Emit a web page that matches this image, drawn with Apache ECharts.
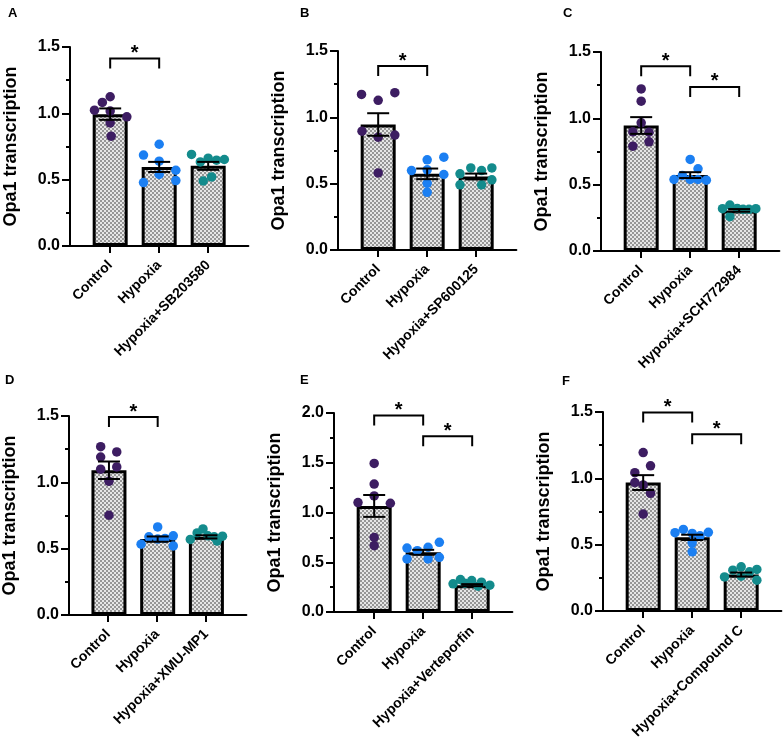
<!DOCTYPE html>
<html><head><meta charset="utf-8">
<script src="https://cdn.jsdelivr.net/npm/echarts@6/dist/echarts.min.js"></script>
<style>html,body{margin:0;padding:0;background:#fff}#c{width:784px;height:749px}</style>
</head><body><div id="c"></div>
<script>
// ---------- DATA ----------
const groupNames = ['Control', 'Hypoxia'];
const treatments = ['Hypoxia+SB203580', 'Hypoxia+SP600125', 'Hypoxia+SCH772984',
                    'Hypoxia+XMU-MP1', 'Hypoxia+Verteporfin', 'Hypoxia+Compound C'];
const panelLetters = ['A', 'B', 'C', 'D', 'E', 'F'];
const yMaxes = [1.5, 1.5, 1.5, 1.5, 2.0, 1.5];
const yTickStep = 0.5;
const yTitle = 'Opa1 transcription';

// Panel A
const valuesA = [[1.125,1.082,1.024,1.017,0.974,0.928,0.828],
                 [0.767,0.685,0.639,0.571,0.539,0.478,0.493],
                 [0.690,0.634,0.662,0.647,0.652,0.490,0.521]];
const jitterA = [[0,-0.16,-0.32,0,0.34,0,0.02],
                 [0,-0.32,0,0.34,0,-0.32,0.34],
                 [-0.34,-0.16,0,0.17,0.33,-0.10,0.07]];
const meanA = [0.994, 0.596, 0.604];
const semA  = [0.043, 0.038, 0.030];
const sigA  = [[0, 1, 1.414]];

// Panel B
const valuesB = [[1.173,1.128,1.186,0.896,0.850,0.866,0.581],
                 [0.680,0.700,0.599,0.604,0.569,0.503,0.435],
                 [0.574,0.491,0.619,0.599,0.619,0.529,0.491]];
const jitterB = [[-0.34,0,0.34,-0.33,0,0.34,0],
                 [0,0.34,-0.32,0,0.34,0,0],
                 [-0.33,-0.33,-0.11,0.11,0.32,0.32,0.11]];
const meanB = [0.946, 0.574, 0.554];
const semB  = [0.085, 0.040, 0.022];
const sigB  = [[0, 1, 1.387]];

// Panel C
const valuesC = [[1.222,1.129,0.966,0.898,0.895,0.790,0.823],
                 [0.690,0.620,0.539,0.570,0.539,0.539,0.534],
                 [0.319,0.346,0.321,0.314,0.314,0.319,0.259]];
const jitterC = [[0,0,0,-0.17,0.16,-0.17,0.16],
                 [0,0.16,-0.33,-0.16,0,0.16,0.33],
                 [-0.34,-0.19,-0.04,0.08,0.20,0.34,-0.19]];
const meanC = [0.946, 0.572, 0.306];
const semC  = [0.063, 0.022, 0.010];
const sigC  = [[0, 1, 1.392], [1, 2, 1.237]];

// Panel D
const valuesD = [[1.269,1.229,1.191,1.099,1.116,1.008,0.752],
                 [0.664,0.534,0.589,0.572,0.577,0.597,0.521],
                 [0.570,0.619,0.649,0.597,0.589,0.557,0.594]];
const jitterD = [[-0.17,0.16,-0.17,-0.17,0.16,0,0],
                 [0,-0.34,-0.18,0,0.15,0.32,0.32],
                 [-0.33,-0.19,-0.07,0.03,0.16,0.22,0.33]];
const meanD = [1.091, 0.572, 0.589];
const semD  = [0.066, 0.020, 0.012];
const sigD  = [[0, 1, 1.492]];

// Panel E
const valuesE = [[1.493,1.286,1.166,1.100,1.093,0.750,0.666],
                 [0.643,0.616,0.650,0.700,0.533,0.533,0.550],
                 [0.283,0.326,0.316,0.260,0.300,0.270,0.290]];
const jitterE = [[0,0,0,-0.33,0.33,0,0],
                 [-0.33,-0.12,0.10,0.33,-0.33,0.10,0.33],
                 [-0.39,-0.24,-0.01,0.12,0.19,0.36,-0.15]];
const meanE = [1.066, 0.600, 0.270];
const semE  = [0.110, 0.025, 0.010];
const sigE  = [[0, 1, 1.976], [1, 2, 1.766]];

// Panel F
const valuesF = [[1.194,1.043,1.094,0.968,0.887,0.731,0.950],
                 [0.590,0.615,0.585,0.567,0.593,0.514,0.446],
                 [0.257,0.308,0.333,0.295,0.313,0.262,0.232]];
const jitterF = [[0,-0.17,0.15,-0.17,0.15,0,0],
                 [-0.35,-0.18,0,0.16,0.33,0,0],
                 [-0.34,-0.17,0,0.17,0.32,0,0.32]];
const meanF = [0.968, 0.555, 0.275];
const semF  = [0.056, 0.020, 0.015];
const sigF  = [[0, 1, 1.497], [1, 2, 1.333]];

// ---------- LAYOUT / STYLE ----------
const panels = [
  {values: valuesA, jitter: jitterA, mean: meanA, sem: semA, sig: sigA},
  {values: valuesB, jitter: jitterB, mean: meanB, sem: semB, sig: sigB},
  {values: valuesC, jitter: jitterC, mean: meanC, sem: semC, sig: sigC},
  {values: valuesD, jitter: jitterD, mean: meanD, sem: semD, sig: sigD},
  {values: valuesE, jitter: jitterE, mean: meanE, sem: semE, sig: sigE},
  {values: valuesF, jitter: jitterF, mean: meanF, sem: semF, sig: sigF}
];
const gridLeft = [70, 338, 601, 68, 334, 603];
const gridTop  = [47, 51, 52, 416, 413, 412];
const gridH = 199;
const unit = 49;
const xMin = -0.82, xMax = 2.82;
const letterPos = [[8, 7], [300, 7], [563, 7], [5, 374], [300, 374], [562, 375]];
const dotColors = ['#3d1d62', '#1b7ff2', '#138b8c'];
const FONT = 'Liberation Sans, Arial, sans-serif';

const pc = document.createElement('canvas');
pc.width = 4; pc.height = 4;
const ctx = pc.getContext('2d');
ctx.fillStyle = '#e6e6e6'; ctx.fillRect(0, 0, 4, 4);
ctx.fillStyle = '#969696'; ctx.fillRect(0, 0, 2, 2); ctx.fillRect(2, 2, 2, 2);
const pattern = {image: pc, repeat: 'repeat'};

const grid = [], xAxis = [], yAxis = [], series = [], title = [];
panels.forEach((p, i) => {
  const gi = 2 * i, li = 2 * i + 1;
  grid.push({left: gridLeft[i], top: gridTop[i], width: (xMax - xMin) * unit, height: gridH});
  grid.push({left: gridLeft[i] + (-0.5 - xMin) * unit, top: gridTop[i], width: 3 * unit, height: gridH});
  xAxis.push({type: 'value', gridIndex: gi, min: xMin, max: xMax,
    axisLine: {show: true, lineStyle: {color: '#000', width: 2}},
    axisTick: {show: false}, axisLabel: {show: false}, splitLine: {show: false}});
  xAxis.push({type: 'category', gridIndex: li, data: [groupNames[0], groupNames[1], treatments[i]],
    axisLine: {show: false},
    axisTick: {show: true, alignWithLabel: true, length: 7, lineStyle: {color: '#000', width: 2}},
    axisLabel: {interval: 0, rotate: 45, margin: 17, fontSize: 14, fontWeight: 'bold', color: '#000', fontFamily: FONT},
    splitLine: {show: false}});
  yAxis.push({type: 'value', gridIndex: gi, min: 0, max: yMaxes[i], interval: yTickStep,
    axisLine: {show: true, onZero: false, lineStyle: {color: '#000', width: 2}},
    axisTick: {show: true, length: 8, lineStyle: {color: '#000', width: 2}},
    minorTick: {show: true, splitNumber: 2, length: 4, lineStyle: {color: '#000', width: 2}},
    splitLine: {show: false}, minorSplitLine: {show: false},
    axisLabel: {formatter: v => v.toFixed(1), fontSize: 16, fontWeight: 'bold', color: '#000', margin: 10, fontFamily: FONT},
    name: yTitle, nameLocation: 'middle', nameGap: 50,
    nameTextStyle: {fontSize: 18, fontWeight: 'bold', color: '#000', fontFamily: FONT}});
  yAxis.push({type: 'value', gridIndex: li, show: false, min: 0, max: yMaxes[i]});

  series.push({type: 'bar', xAxisIndex: gi, yAxisIndex: gi, barWidth: 35, z: 2,
    data: p.mean.map((m, k) => [k, m]),
    itemStyle: {color: pattern, borderColor: '#000', borderWidth: 3}});
  p.values.forEach((vals, g) => {
    series.push({type: 'scatter', xAxisIndex: gi, yAxisIndex: gi, z: 3,
      symbol: 'circle', symbolSize: 9.5,
      itemStyle: {color: dotColors[g], opacity: 1},
      data: vals.map((v, k) => [g + p.jitter[g][k], v])});
  });
  series.push({type: 'custom', xAxisIndex: gi, yAxisIndex: gi, z: 4,
    encode: {x: 0, y: 1},
    data: p.mean.map((m, k) => [k, m, p.sem[k]]),
    renderItem: (params, api) => {
      const x = api.value(0), m = api.value(1), s = api.value(2);
      const t = api.coord([x, m + s]), b = api.coord([x, m - s]);
      const hw = 11, st = {stroke: '#000', lineWidth: 2};
      return {type: 'group', children: [
        {type: 'line', shape: {x1: t[0], y1: t[1], x2: b[0], y2: b[1]}, style: st},
        {type: 'line', shape: {x1: t[0] - hw, y1: t[1], x2: t[0] + hw, y2: t[1]}, style: st},
        {type: 'line', shape: {x1: b[0] - hw, y1: b[1], x2: b[0] + hw, y2: b[1]}, style: st}
      ]};
    }});
  series.push({type: 'custom', xAxisIndex: gi, yAxisIndex: gi, z: 4,
    encode: {x: [0, 1], y: 2},
    data: p.sig,
    renderItem: (params, api) => {
      const a = api.coord([api.value(0), api.value(2)]);
      const b = api.coord([api.value(1), api.value(2)]);
      const leg = 10;
      return {type: 'group', children: [
        {type: 'polyline', shape: {points: [[a[0], a[1] + leg], [a[0], a[1]], [b[0], b[1]], [b[0], b[1] + leg]]},
         style: {stroke: '#000', lineWidth: 2, fill: null}},
        {type: 'text', x: (a[0] + b[0]) / 2, y: a[1] - 5,
         style: {text: '*', fontSize: 20, fontWeight: 'bold', fill: '#000', fontFamily: FONT,
                 align: 'center', verticalAlign: 'middle'}}
      ]};
    }});
  title.push({text: panelLetters[i], left: letterPos[i][0], top: letterPos[i][1], padding: 0,
    textStyle: {fontSize: 13, fontWeight: 'bold', color: '#000', fontFamily: FONT}});
});

const chart = echarts.init(document.getElementById('c'), null, {renderer: 'canvas'});
chart.setOption({animation: false, backgroundColor: '#fff', title, grid, xAxis, yAxis, series});
</script></body></html>
